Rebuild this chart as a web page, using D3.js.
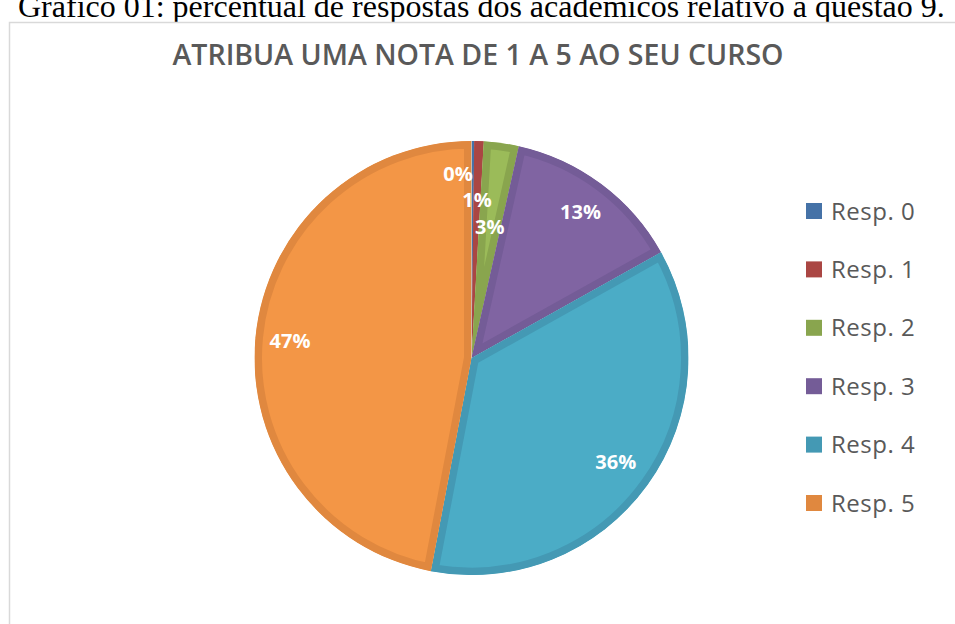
<!DOCTYPE html>
<html>
<head>
<meta charset="utf-8">
<script src="https://cdn.jsdelivr.net/npm/d3@7"></script>
<style>
  body { margin: 0; background: #fff; }
  svg { display: block; }
</style>
</head>
<body>
<div id="chart"></div>
<script>
const caption = "Gráfico 01: percentual de respostas dos acadêmicos relativo à questão 9."
const title = "ATRIBUA UMA NOTA DE 1 A 5 AO SEU CURSO"
const categories = ["Resp. 0", "Resp. 1", "Resp. 2", "Resp. 3", "Resp. 4", "Resp. 5"]
const values = [0.2, 0.7, 2.6, 13.4, 36.1, 47.0]

const fills = ["#4F81BD", "#C0504D", "#9BBB59", "#8064A2", "#4BACC6", "#F39646"]
const borders = ["#4572A7", "#AA4643", "#89A54E", "#745C97", "#4499B4", "#E0883F"]

const w = 955
const h = 624
const cx = 471.5
const cy = 358
const r = 217
// where each label sits, as a share of the radius
const labelR = [0.85, 0.73, 0.61, 0.84, 0.82, 0.84]

const svg = d3.select('#chart')
    .append('svg')
    .attr('width', w)
    .attr('height', h)

svg.append('text')
    .attr('x', 18)
    .attr('y', 17)
    .attr('font-family', '"Liberation Serif", "Times New Roman", serif')
    .attr('font-size', 32)
    .attr('fill', '#000')
    .text(caption)

svg.append('rect')
    .attr('x', 9.5)
    .attr('y', 22.5)
    .attr('width', w + 20)
    .attr('height', h)
    .attr('fill', '#fff')
    .attr('stroke', '#d9d9d9')
    .attr('stroke-width', 1.5)

svg.append('text')
    .attr('x', 478)
    .attr('y', 65)
    .attr('text-anchor', 'middle')
    .attr('font-family', '"Open Sans", sans-serif')
    .attr('font-weight', 600)
    .attr('font-size', 28.5)
    .attr('fill', '#595959')
    .text(title)

const total = d3.sum(values)
const pct = d3.format('.0%')

const pie = d3.pie()
    .sort(null)
    .value(d => d)

const arcs = pie(values)

const arc = d3.arc()
    .innerRadius(0)
    .outerRadius(r)

const g = svg.append('g')
    .attr('transform', 'translate(' + cx + ',' + cy + ')')

const defs = svg.append('defs')
defs.selectAll('clipPath')
    .data(arcs)
    .enter()
    .append('clipPath')
    .attr('id', (d, i) => 'slice' + i)
    .append('path')
    .attr('d', arc)

g.selectAll('path.slice')
    .data(arcs)
    .enter()
    .append('path')
    .attr('class', 'slice')
    .attr('d', arc)
    .attr('fill', (d, i) => fills[i])
    .attr('stroke', (d, i) => borders[i])
    .attr('stroke-width', 15)
    .attr('stroke-linejoin', 'miter')
    .attr('clip-path', (d, i) => 'url(#slice' + i + ')')

g.selectAll('text.lbl')
    .data(arcs)
    .enter()
    .append('text')
    .attr('class', 'lbl')
    .attr('transform', (d, i) => {
        const a = (d.startAngle + d.endAngle) / 2
        const rr = r * labelR[i]
        return 'translate(' + (Math.sin(a) * rr) + ',' + (-Math.cos(a) * rr) + ')'
    })
    .attr('text-anchor', (d, i) => i === 0 ? 'end' : 'middle')
    .attr('dy', '0.36em')
    .attr('font-family', '"Open Sans", sans-serif')
    .attr('font-weight', 700)
    .attr('font-size', 20)
    .attr('fill', '#fff')
    .text(d => pct(d.value / total))

const legY = d3.scalePoint()
    .domain(categories)
    .range([211, 503])

const legend = svg.append('g')
    .attr('id', 'legend')

legend.selectAll('rect')
    .data(categories)
    .enter()
    .append('rect')
    .attr('x', 806)
    .attr('y', d => legY(d) - 8)
    .attr('width', 16)
    .attr('height', 16)
    .attr('fill', (d, i) => borders[i])

legend.selectAll('text')
    .data(categories)
    .enter()
    .append('text')
    .attr('x', 831)
    .attr('y', d => legY(d))
    .attr('dy', '0.36em')
    .attr('font-family', '"Open Sans", sans-serif')
    .attr('font-size', 24)
    .attr('letter-spacing', 0.5)
    .attr('fill', '#595959')
    .text(d => d)
</script>
</body>
</html>
